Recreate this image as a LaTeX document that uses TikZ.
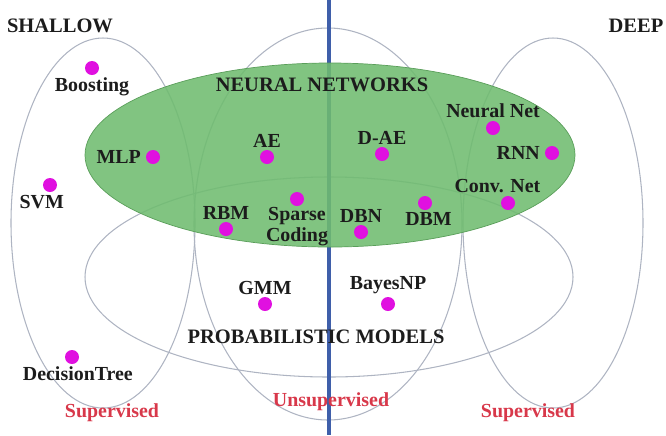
\documentclass[tikz,border=0pt]{standalone}
\usepackage{fontspec}
\setmainfont{Liberation Serif}
\usepackage{xcolor}
\definecolor{nngreen}{HTML}{6FBC6F}
\definecolor{nnedge}{HTML}{5A9E5A}
\definecolor{rim}{HTML}{AEB4C2}
\definecolor{divider}{HTML}{3F5FAA}
\definecolor{dotpink}{HTML}{E010E0}
\definecolor{suplabel}{HTML}{D8384A}
\definecolor{ink}{HTML}{1C1C1C}
\usetikzlibrary{positioning}

\begin{document}
\begin{tikzpicture}[
  x=0.03cm, y=-0.03cm,
  region/.style={draw=rim, line width=0.9pt},
  dot/.style={circle, fill=dotpink, inner sep=0pt, minimum size=0.42cm},
  tag/.style={font=\fontsize{17}{18}\selectfont\bfseries, text=ink, inner sep=1pt},
  head/.style={font=\fontsize{17.5}{18}\selectfont\bfseries, text=ink},
  kind/.style={font=\fontsize{17}{18}\selectfont\bfseries, text=suplabel},
]
\useasboundingbox (0,0) rectangle (666,435);

% Regions
\draw[region] (103,223) ellipse [x radius=92, y radius=185];
\draw[region] (328,224) ellipse [x radius=134, y radius=196];
\draw[region] (553,223) ellipse [x radius=90, y radius=185];
\draw[region] (329,277) ellipse [x radius=244, y radius=100];

% Shallow / deep divide
\draw[divider, line width=2.6pt] (329,0) -- (329,435);

% Neural networks
\fill[nngreen, fill opacity=0.88] (330,155) ellipse [x radius=245, y radius=92];
\draw[nnedge, line width=0.6pt] (330,155) ellipse [x radius=245, y radius=92];

% Headings
\node[head] (shallow) at (60,26) {SHALLOW};
\node[head] (deep) at (636,26) {DEEP};
\node[head] (nn) at (322,85) {NEURAL NETWORKS};
\node[head] (pm) at (316,337) {PROBABILISTIC MODELS};

% Methods
\node[dot] (boost) at (92,68) {};
\node[tag, below=1pt of boost] (boostL) {Boosting};
\node[dot] (mlp) at (153,157) {};
\node[tag, left=3pt of mlp] (mlpL) {MLP};
\node[dot] (svm) at (50,185) {};
\node[tag, below=1pt of svm, xshift=-7pt] (svmL) {SVM};
\node[dot] (ae) at (267,157) {};
\node[tag, above=1pt of ae] (aeL) {AE};
\node[dot] (dae) at (382,154) {};
\node[tag, above=1pt of dae] (daeL) {D-AE};
\node[dot] (nnet) at (493,128) {};
\node[tag, above=1pt of nnet] (nnetL) {Neural Net};
\node[dot] (rnn) at (552,153) {};
\node[tag, left=3pt of rnn] (rnnL) {RNN};
\node[dot] (conv) at (508,203) {};
\node[tag, above=1pt of conv, xshift=-9pt] (convL) {Conv. Net};
\node[dot] (rbm) at (226,229) {};
\node[tag, above=1pt of rbm] (rbmL) {RBM};
\node[dot] (sparse) at (297,199) {};
\node[tag, below=0pt of sparse, align=center] (sparseL) {Sparse\\Coding};
\node[dot] (dbn) at (361,232) {};
\node[tag, above=1pt of dbn] (dbnL) {DBN};
\node[dot] (dbm) at (425,203) {};
\node[tag, below=1pt of dbm, xshift=3pt] (dbmL) {DBM};
\node[dot] (gmm) at (265,304) {};
\node[tag, above=1pt of gmm] (gmmL) {GMM};
\node[dot] (bayes) at (388,304) {};
\node[tag, above=1pt of bayes] (bayesL) {BayesNP};
\node[dot] (tree) at (72,357) {};
\node[tag, below=1pt of tree, xshift=5pt] (treeL) {DecisionTree};

% Learning type
\node[kind] (supL) at (112,413) {Supervised};
\node[kind] (unsup) at (331,402) {Unsupervised};
\node[kind] (supR) at (528,413) {Supervised};
\end{tikzpicture}
\end{document}
